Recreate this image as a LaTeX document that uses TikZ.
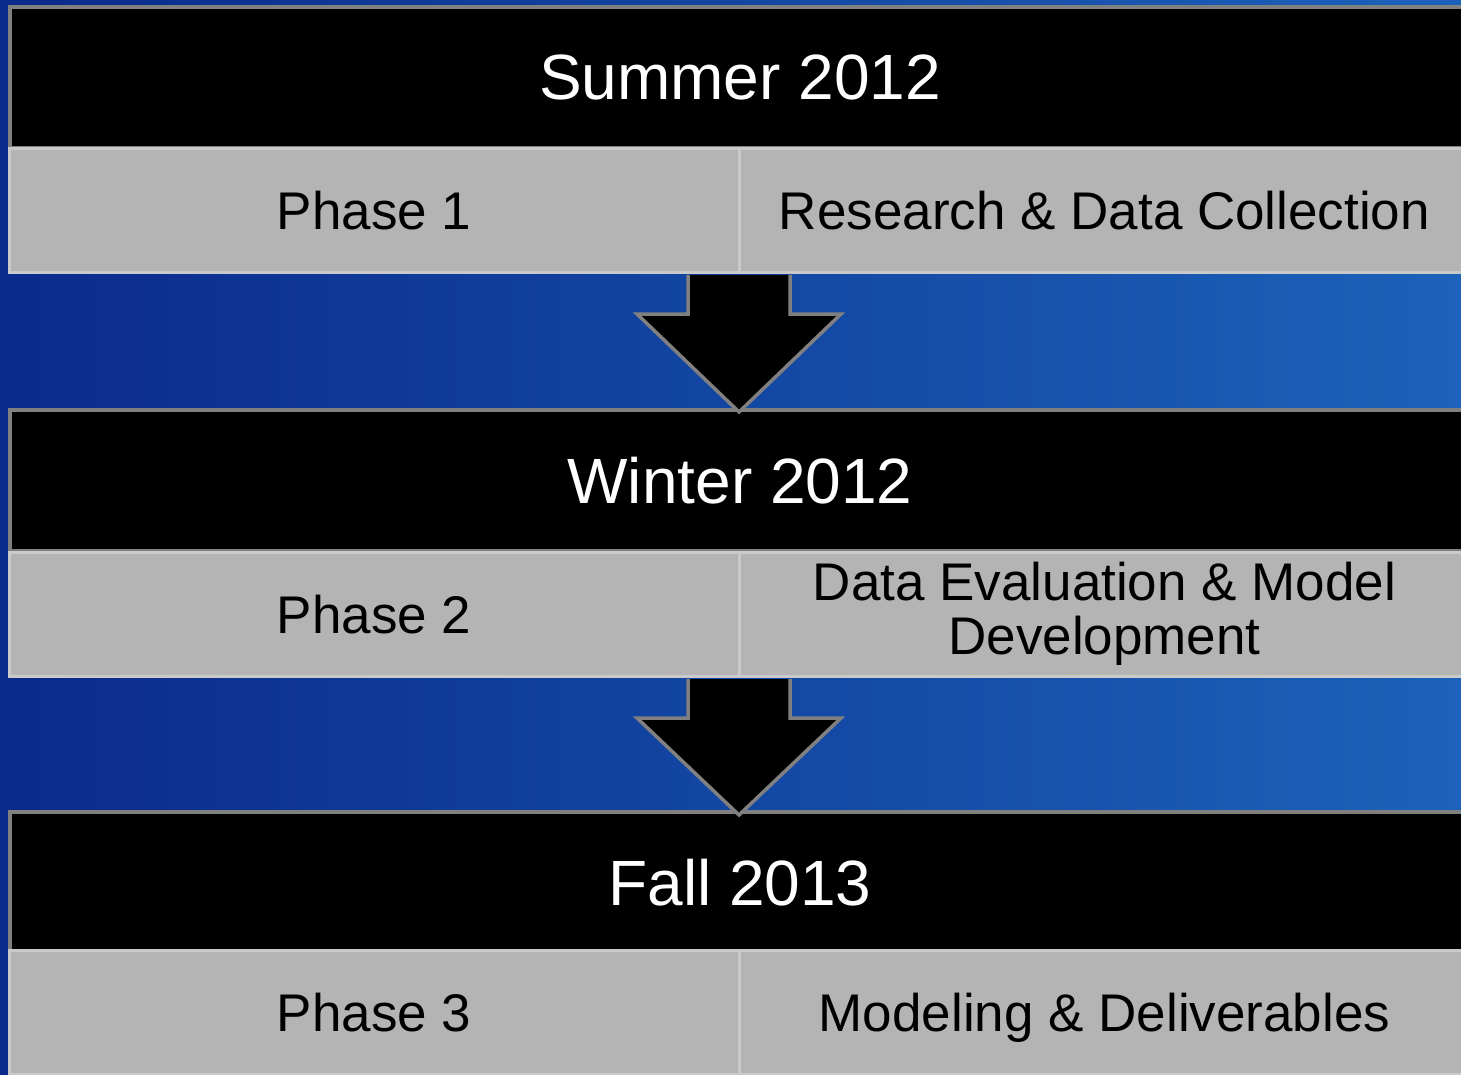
\documentclass[tikz,border=0pt]{standalone}
\usepackage{fontspec}
\setmainfont{Liberation Sans}
\usetikzlibrary{calc}
\definecolor{bgleft}{HTML}{0A2A8C}
\definecolor{bgright}{HTML}{1C62BA}
\definecolor{hdrborder}{HTML}{808080}
\definecolor{rowfill}{HTML}{B4B4B4}
\definecolor{rowborder}{HTML}{CACACA}
\tikzset{
  header/.style={rectangle, fill=black, draw=hdrborder, line width=4pt,
    minimum width=1460pt, minimum height=141pt, inner sep=0pt,
    text=white, font=\fontsize{64}{66}\selectfont},
  rowcell/.style={rectangle, fill=rowfill, draw=rowborder, line width=3pt,
    minimum height=124pt, inner sep=0pt, text=black,
    font=\fontsize{53}{54}\selectfont, align=center},
  oneline/.style={text height=38pt, text depth=0pt},
  leftcell/.style={rowcell, oneline, minimum width=730pt},
  rightcell/.style={rowcell, minimum width=731pt},
  blockarrow/.style={fill=black, draw=hdrborder, line width=3.5pt, line join=miter}
}
\begin{document}
\begin{tikzpicture}[x=1pt,y=-1pt]
\useasboundingbox (0,0) rectangle (1461,1075);
\clip (0,0) rectangle (1461,1075);
\fill[left color=bgleft, right color=bgright] (0,0) rectangle (1461,1075);
% headers
\node[header] (h1) at (740,77.5) {Summer 2012};
\node[header] (h2) at (740,480.5) {Winter 2012};
\node[header] (h3) at (740,882.5) {Fall 2013};
% arrows
\draw[blockarrow] ($(h1.south)+(-52,125)$) -- ++(0,39) -- ++(-51,0) -- ($(h2.north)+(-1,4)$) -- ($(h1.south)+(101,164)$) -- ++(-51,0) -- ++(0,-39);
\draw[blockarrow] ($(h2.south)+(-52,126)$) -- ++(0,39) -- ++(-51,0) -- ($(h3.north)+(-1,5)$) -- ($(h2.south)+(101,165)$) -- ++(-51,0) -- ++(0,-39);
% rows
\node[leftcell]  (p1) at (374,211) {Phase 1};
\node[rightcell, oneline] (d1) at (1104.5,211) {Research \& Data Collection};
\node[leftcell]  (p2) at (374,614) {Phase 2};
\node[rightcell] (d2) at (1104.5,614) {Data Evaluation \& Model\\Development};
\node[leftcell]  (p3) at (374,1012) {Phase 3};
\node[rightcell, oneline] (d3) at (1104.5,1012) {Modeling \& Deliverables};
\end{tikzpicture}
\end{document}
